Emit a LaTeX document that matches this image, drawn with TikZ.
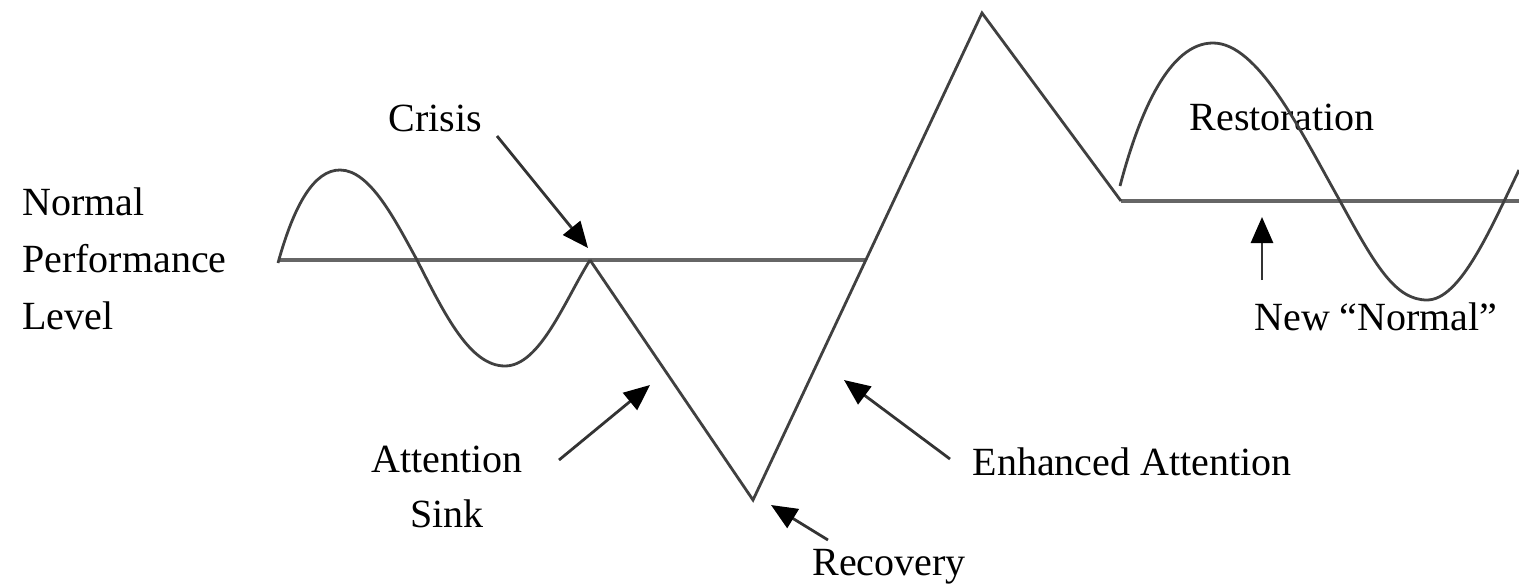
\documentclass[tikz,border=0pt]{standalone}
\usepackage{fontspec}
\setmainfont{Liberation Serif}
\usetikzlibrary{arrows.meta}
\begin{document}
\begin{tikzpicture}[x=1pt,y=-1pt,
  curve/.style={draw=black!75,line width=2.8pt,line join=miter},
  base/.style={draw=black!60,line width=3.4pt},
  pointer/.style={draw=black!80,line width=2.8pt,-{Triangle[length=26pt,width=22pt,color=black]}},
  lbl/.style={font=\fontsize{40}{55}\selectfont,text=black,inner sep=0pt,align=center}]
\useasboundingbox (0,0) rectangle (1519,586);
% labels
\node[lbl,anchor=west,align=left,font=\fontsize{40}{57}\selectfont] (npl) at (22,259) {Normal\\Performance\\Level};
\node[lbl] (crisis) at (435,118) {Crisis};
\node[lbl] (sink) at (447,487) {Attention\\Sink};
\node[lbl] (recovery) at (889,567) {Recovery};
\node[lbl] (enh) at (1132,462) {Enhanced Attention};
\node[lbl] (rest) at (1282,117) {Restoration};
\node[lbl] (newn) at (1376,317) {New “Normal”};
% key points
\coordinate (b0) at (278,260);
\coordinate (b1) at (865,260);
\coordinate (cp) at (590,260);
\coordinate (vb) at (753,500);
\coordinate (pk) at (982,13);
\coordinate (nb) at (1121,201);
\coordinate (ne) at (1519,201);
% baselines
\draw[base] (b0) -- (b1);
\draw[base] (nb) -- (ne);
% left wave
\draw[curve] (278,263) .. controls (294,205) and (314,170) .. (340,170)
  .. controls (370,170) and (395,220) .. (417,260)
  .. controls (445,315) and (470,366) .. (505,366)
  .. controls (540,366) and (565,300) .. (cp);
% zigzag
\draw[curve] (cp) -- (vb) -- (pk) -- (nb);
% right wave
\draw[curve] (1120,186) .. controls (1140,110) and (1170,43) .. (1213,43)
  .. controls (1258,43) and (1300,130) .. (1340,201)
  .. controls (1375,265) and (1395,300) .. (1427,300)
  .. controls (1460,300) and (1490,230) .. (1519,170);
% arrows
\coordinate (ca) at (497,136); \coordinate (ct) at (588,248);
\coordinate (sa) at (559,460); \coordinate (st) at (650,385);
\coordinate (ea) at (950,459); \coordinate (et) at (844,380);
\coordinate (ra) at (828,540); \coordinate (rt) at (771,505);
\coordinate (na) at (1262,280); \coordinate (nt) at (1262,217);
\draw[pointer] (ca) -- (ct);
\draw[pointer] (sa) -- (st);
\draw[pointer] (ea) -- (et);
\draw[pointer] (ra) -- (rt);
\draw[pointer] (na) -- (nt);
\end{tikzpicture}
\end{document}
